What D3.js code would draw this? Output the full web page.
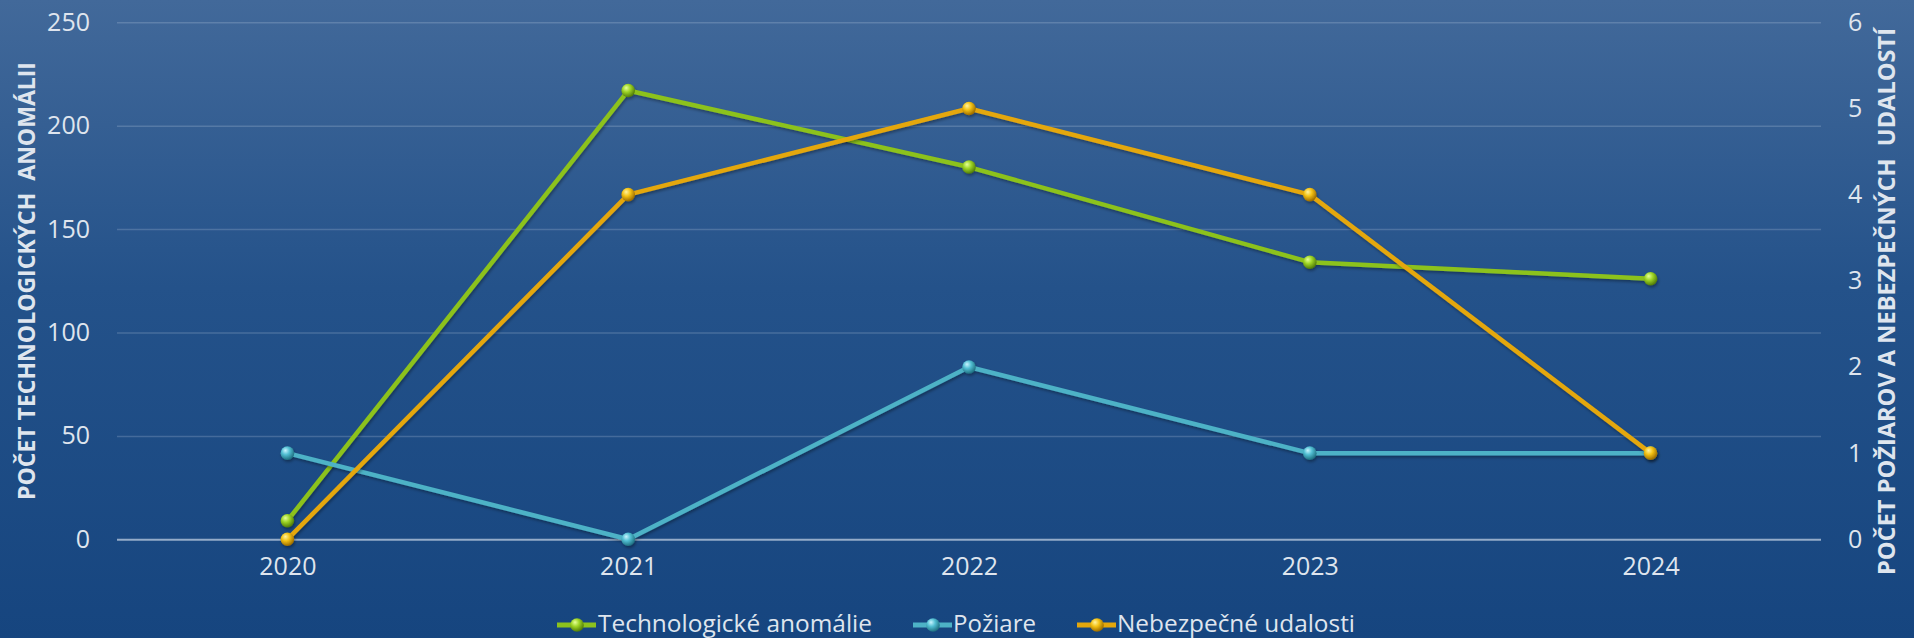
<!DOCTYPE html>
<html>
<head>
<meta charset="utf-8">
<script src="https://cdn.jsdelivr.net/npm/d3@7"></script>
<style>
  html, body { margin: 0; padding: 0; background: #1a4a84; }
  svg { display: block; }
  text { font-family: "Open Sans", "DejaVu Sans", sans-serif; }
</style>
</head>
<body>
<svg id="chart" width="1914" height="638"></svg>
<script>
const years = ["2020", "2021", "2022", "2023", "2024"];
const techAnomalies = [9, 217, 180, 134, 126];
const fires = [1, 0, 2, 1, 1];
const dangerousEvents = [0, 4, 5, 4, 1];
const leftTicks = [0, 50, 100, 150, 200, 250];
const rightTicks = [0, 1, 2, 3, 4, 5, 6];
const seriesNames = ["Technologické anomálie", "Požiare", "Nebezpečné udalosti"];
const leftTitle = "POČET TECHNOLOGICKÝCH  ANOMÁLII";
const rightTitle = "POČET POŽIAROV A NEBEZPEČNÝCH  UDALOSTÍ";

const W = 1914, H = 638;
const plot = { left: 117, right: 1821, top: 22.3, bottom: 539.3 };

const svg = d3.select("#chart");
const defs = svg.append("defs");

// background gradient
const bg = defs.append("linearGradient").attr("id", "bg").attr("x1", 0).attr("y1", 0).attr("x2", 0).attr("y2", 1);
bg.append("stop").attr("offset", "0%").attr("stop-color", "#42699a");
bg.append("stop").attr("offset", "45%").attr("stop-color", "#24528a");
bg.append("stop").attr("offset", "100%").attr("stop-color", "#16457f");
svg.append("rect").attr("width", W).attr("height", H).attr("fill", "url(#bg)");

// shadow filter
const f = defs.append("filter").attr("id", "shadow").attr("x", "-5%").attr("y", "-5%").attr("width", "110%").attr("height", "110%");
f.append("feDropShadow").attr("dx", 1).attr("dy", 2).attr("stdDeviation", 1.5).attr("flood-color", "#000").attr("flood-opacity", 0.35);

const x = d3.scalePoint().domain(years).range([plot.left, plot.right]).padding(0.5);
const yL = d3.scaleLinear().domain([0, 250]).range([plot.bottom, plot.top]);
const yR = d3.scaleLinear().domain([0, 6]).range([plot.bottom, plot.top]);

// gridlines
const grid = svg.append("g").attr("transform", `translate(${plot.left},0)`)
  .call(d3.axisLeft(yL).tickValues(leftTicks).tickSize(-(plot.right - plot.left)).tickFormat(""));
grid.select(".domain").remove();
grid.selectAll(".tick line")
  .attr("stroke", d => d === 0 ? "rgba(230,238,248,0.6)" : "rgba(220,230,245,0.2)")
  .attr("stroke-width", d => d === 0 ? 2 : 1.5);

// left axis labels
const axL = svg.append("g").attr("transform", `translate(${plot.left},0)`)
  .call(d3.axisLeft(yL).tickValues(leftTicks).tickFormat(d3.format("d")).tickSize(0).tickPadding(27));
axL.select(".domain").remove();
axL.selectAll("text").attr("font-size", 25).attr("fill", "#dfe5ee").attr("font-family", "Open Sans");

// right axis labels
const axR = svg.append("g").attr("transform", `translate(${plot.right},0)`)
  .call(d3.axisRight(yR).tickValues(rightTicks).tickFormat(d3.format("d")).tickSize(0).tickPadding(27));
axR.select(".domain").remove();
axR.selectAll("text").attr("font-size", 25).attr("fill", "#dfe5ee").attr("font-family", "Open Sans");

// x axis labels
const axX = svg.append("g").attr("transform", `translate(0,${plot.bottom})`)
  .call(d3.axisBottom(x).tickSize(0).tickPadding(18));
axX.select(".domain").remove();
axX.selectAll("text").attr("font-size", 25).attr("fill", "#dfe5ee").attr("font-family", "Open Sans");

// axis titles
svg.append("text")
  .attr("transform", `translate(35,281) rotate(-90)`)
  .attr("text-anchor", "middle")
  .attr("font-size", 23).attr("font-weight", "bold").attr("fill", "#dfe5ee")
  .style("white-space", "pre")
  .attr("textLength", 438).attr("lengthAdjust", "spacingAndGlyphs")
  .text(leftTitle);
svg.append("text")
  .attr("transform", `translate(1895,301.5) rotate(-90)`)
  .attr("text-anchor", "middle")
  .attr("font-size", 23).attr("font-weight", "bold").attr("fill", "#dfe5ee")
  .style("white-space", "pre")
  .attr("textLength", 547).attr("lengthAdjust", "spacingAndGlyphs")
  .text(rightTitle);

// series
const series = [
  { name: seriesNames[0], values: techAnomalies, scale: yL, line: "#8cc21d", hi: "#e6ff9a", mid: "#9ed526", dark: "#4f7a08" },
  { name: seriesNames[1], values: fires, scale: yR, line: "#4db2c6", hi: "#c8f4ff", mid: "#52bfd3", dark: "#1f6f80" },
  { name: seriesNames[2], values: dangerousEvents, scale: yR, line: "#e4a70c", hi: "#fff3a0", mid: "#f3c214", dark: "#9a6a00" }
];

series.forEach((s, i) => {
  const g = defs.append("radialGradient").attr("id", "mk" + i)
    .attr("cx", "40%").attr("cy", "35%").attr("r", "65%").attr("fx", "35%").attr("fy", "30%");
  g.append("stop").attr("offset", "0%").attr("stop-color", s.hi);
  g.append("stop").attr("offset", "45%").attr("stop-color", s.mid);
  g.append("stop").attr("offset", "100%").attr("stop-color", s.dark);
});

const lineGen = sc => d3.line().x((d, i) => x(years[i])).y(d => sc(d));

series.forEach((s, i) => {
  const g = svg.append("g").attr("filter", "url(#shadow)");
  g.append("path")
    .datum(s.values)
    .attr("d", lineGen(s.scale))
    .attr("fill", "none")
    .attr("stroke", s.line)
    .attr("stroke-width", 4.5)
    .attr("stroke-linejoin", "round");
  g.selectAll("circle").data(s.values).join("circle")
    .attr("cx", (d, j) => x(years[j]))
    .attr("cy", d => s.scale(d))
    .attr("r", 6.8)
    .attr("fill", `url(#mk${i})`);
});

// legend
const legend = svg.append("g");
const legendItems = [
  { sym: 557, text: 598, len: 274 },
  { sym: 913, text: 953, len: 83 },
  { sym: 1077, text: 1117, len: 238 }
];
const ly = 625;
series.forEach((s, i) => {
  const it = legendItems[i];
  const g = legend.append("g");
  g.append("line").attr("x1", it.sym).attr("x2", it.sym + 39).attr("y1", ly).attr("y2", ly)
    .attr("stroke", s.line).attr("stroke-width", 5);
  g.append("circle").attr("cx", it.sym + 20).attr("cy", ly).attr("r", 6.8).attr("fill", `url(#mk${i})`);
  g.append("text").attr("x", it.text).attr("y", ly + 7)
    .attr("font-size", 23).attr("fill", "#dfe5ee")
    .attr("textLength", it.len).attr("lengthAdjust", "spacingAndGlyphs")
    .text(s.name);
});
</script>
</body>
</html>
